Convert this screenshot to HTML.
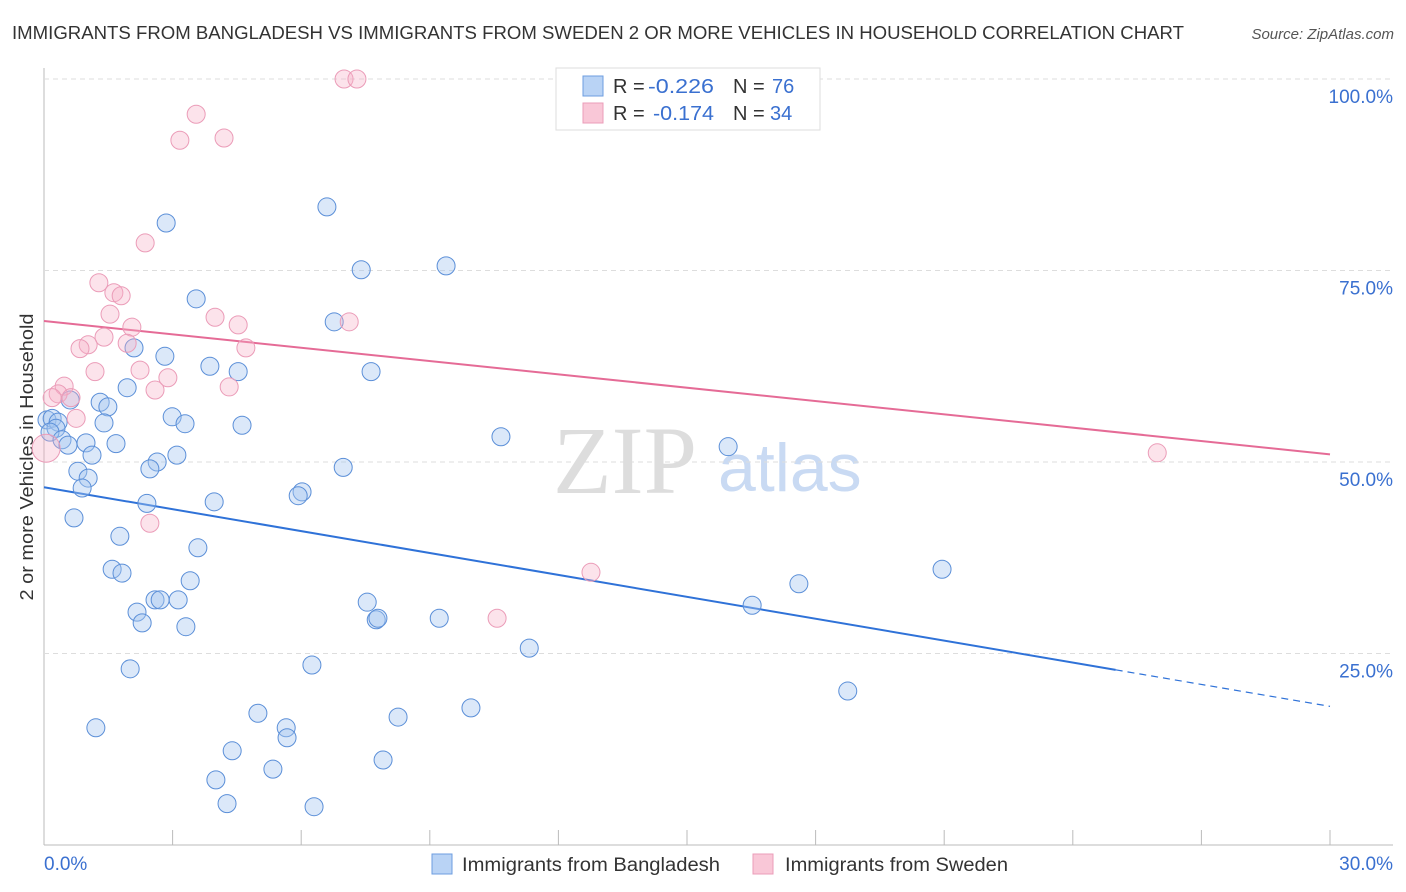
<!DOCTYPE html>
<html><head><meta charset="utf-8"><style>
body{margin:0;background:#fff;width:1406px;height:892px;overflow:hidden;font-family:"Liberation Sans",sans-serif}
svg{display:block}
</style></head><body>
<svg id="chart" width="1406" height="892">
<text x="12" y="39" font-size="18" fill="#333" textLength="1172" lengthAdjust="spacingAndGlyphs">IMMIGRANTS FROM BANGLADESH VS IMMIGRANTS FROM SWEDEN 2 OR MORE VEHICLES IN HOUSEHOLD CORRELATION CHART</text>
<text x="1394" y="39" font-size="15" fill="#555" font-style="italic" text-anchor="end">Source: ZipAtlas.com</text>
<text transform="translate(33,457) rotate(-90)" font-size="18" fill="#333" text-anchor="middle" textLength="287" lengthAdjust="spacingAndGlyphs">2 or more Vehicles in Household</text>
<g><text x="553" y="493" font-size="96" font-family="Liberation Serif,serif" fill="#ddd">ZIP</text><text x="718" y="491" font-size="68" fill="#c9daf3">atlas</text></g>
<g id="grid"></g><g id="trend"></g><g id="pts"></g>
<g>
<rect x="556" y="68" width="264" height="62" fill="#fff" stroke="#ddd"/>
<rect x="583" y="76" width="20" height="20" fill="#b9d3f5" stroke="#6d9ee0"/>
<rect x="583" y="103" width="20" height="20" fill="#f9c7d7" stroke="#eb9cb8"/>
<text y="93" font-size="20" fill="#333"><tspan x="613">R = </tspan><tspan x="648" fill="#3a70d0" textLength="66" lengthAdjust="spacingAndGlyphs">-0.226</tspan><tspan x="733">N = </tspan><tspan x="772" fill="#3a70d0">76</tspan></text>
<text y="120" font-size="20" fill="#333"><tspan x="613">R = </tspan><tspan x="653" fill="#3a70d0" textLength="61" lengthAdjust="spacingAndGlyphs">-0.174</tspan><tspan x="733">N = </tspan><tspan x="770" fill="#3a70d0">34</tspan></text>
</g>
<g>
<rect x="432" y="854" width="20" height="20" fill="#b9d3f5" stroke="#6d9ee0"/>
<text x="462" y="871" font-size="19" fill="#333" textLength="258" lengthAdjust="spacingAndGlyphs">Immigrants from Bangladesh</text>
<rect x="753" y="854" width="20" height="20" fill="#f9c7d7" stroke="#eb9cb8"/>
<text x="785" y="871" font-size="19" fill="#333" textLength="223" lengthAdjust="spacingAndGlyphs">Immigrants from Sweden</text>
</g>
</svg>
<script>
const blueX=[0.07,0.19,0.33,0.28,0.14,0.42,0.56,0.98,1.12,0.79,1.03,0.89,0.70,0.61,1.31,1.49,1.40,1.68,1.94,2.10,2.82,2.85,3.55,3.87,4.53,2.99,3.29,2.64,2.47,3.10,2.40,3.97,4.62,1.77,1.59,1.82,3.59,3.41,2.17,2.29,2.59,2.71,3.13,3.31,2.01,1.21,4.99,5.65,5.67,4.39,4.01,4.27,5.34,6.30,6.25,6.60,7.40,6.77,7.63,6.98,6.02,5.93,7.54,7.75,7.79,8.26,7.91,9.22,9.96,11.32,9.38,10.66,15.96,16.52,17.61,18.75,20.95];
const blueY=[55.5,55.7,55.2,54.4,53.9,52.9,52.2,52.5,50.9,48.8,47.9,46.6,42.7,58.1,57.8,57.2,55.1,52.4,59.7,64.9,63.8,81.2,71.3,62.5,61.8,55.9,55.0,50.0,49.1,50.9,44.6,44.8,54.8,40.3,36.0,35.5,38.8,34.5,30.4,29.0,32.0,32.0,32.0,28.5,23.0,15.3,17.2,15.3,14.0,12.3,8.5,5.4,9.9,5.0,23.5,83.3,75.1,68.3,61.8,49.3,46.1,45.6,31.7,29.4,29.6,16.7,11.1,29.6,17.9,25.7,75.6,53.3,52.0,31.3,34.1,20.1,36.0];
const pinkX=[7.00,7.30,3.55,3.17,4.20,2.36,1.28,1.63,1.80,1.54,2.05,3.99,4.53,7.12,1.40,1.03,0.84,1.94,4.71,1.19,2.24,2.89,2.59,4.32,0.47,0.33,0.63,0.19,0.75,0.05,2.47,12.76,10.57,25.97];
const pinkY=[100.0,100.0,95.4,92.0,92.3,78.6,73.4,72.1,71.7,69.3,67.6,68.9,67.9,68.3,66.3,65.3,64.8,65.5,64.9,61.8,62.0,61.0,59.4,59.8,59.9,58.9,58.4,58.4,55.7,51.8,42.0,35.6,29.6,51.2];
const blueTrend=[46.7,18.1]; // y at x=0 and x=30
const pinkTrend=[68.4,51.0];
const yTicks=[100,75,50,25];
const yTickLabels=["100.0%","75.0%","50.0%","25.0%"];
const xTickLabels=["0.0%","30.0%"];
const NS="http://www.w3.org/2000/svg";
const X0=44,X1=1330,Y0=845,Y100=79;
const sx=v=>X0+(v/30)*(X1-X0);
const sy=v=>Y0-(v/100)*(Y0-Y100);
function mk(tag,attrs,parent){const e=document.createElementNS(NS,tag);for(const k in attrs)e.setAttribute(k,attrs[k]);parent.appendChild(e);return e;}
const grid=document.getElementById('grid');
let ax=mk('line',{x1:X0,y1:68,x2:X0,y2:Y0,stroke:'#bbb'},grid);


let bx=mk('line',{x1:X0,y1:Y0,x2:1393,y2:Y0,stroke:'#bbb'},grid);


yTicks.forEach((t,i)=>{
  const g=mk('line',{x1:X0,y1:sy(t),x2:1393,y2:sy(t),stroke:'#ddd','stroke-dasharray':'5,4'},grid);
  
  
  const l=mk('text',{x:1393,y:sy(t)+24,'font-size':19,fill:'#3a70d0','text-anchor':'end'},grid);
  l.textContent=yTickLabels[i];
  
  
});
for(let i=0;i<=10;i++){
  const x=sx(i*3);
  const t=mk('line',{x1:x,y1:Y0-15,x2:x,y2:Y0,stroke:'#bbb'},grid);
  
  
}
const xl0=mk('text',{x:44,y:870,'font-size':19,fill:'#3a70d0'},grid);xl0.textContent=xTickLabels[0];


const xl1=mk('text',{x:1393,y:870,'font-size':19,fill:'#3a70d0','text-anchor':'end'},grid);xl1.textContent=xTickLabels[1];


const pts=document.getElementById('pts');
blueX.forEach((x,i)=>{
  const c=mk('circle',{cx:sx(x),cy:sy(blueY[i]),r:9,fill:'rgba(165,198,240,0.4)',stroke:'#5b8fd8','stroke-width':1},pts);
  
  
});
pinkX.forEach((x,i)=>{
  const c=mk('circle',{cx:sx(x),cy:sy(pinkY[i]),r:i===29?14:9,fill:'rgba(245,175,198,0.35)',stroke:'#eb9cb8','stroke-width':1},pts);
  
  
});
const tr=document.getElementById('trend');
const bAt=x=>blueTrend[0]+(blueTrend[1]-blueTrend[0])*x/30;
const l1=mk('line',{x1:sx(0),y1:sy(bAt(0)),x2:sx(25),y2:sy(bAt(25)),stroke:'#2f72d8','stroke-width':2},tr);


const l2=mk('line',{x1:sx(25),y1:sy(bAt(25)),x2:sx(30),y2:sy(bAt(30)),stroke:'#2f72d8','stroke-width':1.2,'stroke-dasharray':'7,5'},tr);


const l3=mk('line',{x1:sx(0),y1:sy(pinkTrend[0]),x2:sx(30),y2:sy(pinkTrend[1]),stroke:'#e56b96','stroke-width':2},tr);


</script>
</body></html>
